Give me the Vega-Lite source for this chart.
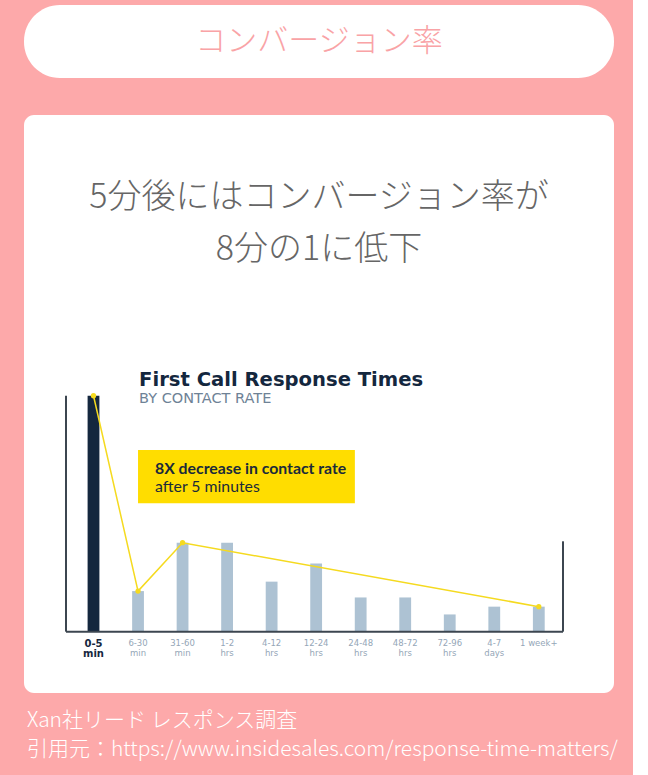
{
  "$schema": "https://vega.github.io/schema/vega-lite/v6.json",
  "background": "#fda9aa",
  "padding": {"left": 24, "top": 5, "right": 15, "bottom": 20},
  "config": {"font": "Noto Sans CJK JP"},
  "datasets": {
    "contact": [
      {"range": "0-5 min", "rate": 100},
      {"range": "6-30 min", "rate": 17.2},
      {"range": "31-60 min", "rate": 37.7},
      {"range": "1-2 hrs", "rate": 37.7},
      {"range": "4-12 hrs", "rate": 21.2},
      {"range": "12-24 hrs", "rate": 28.9},
      {"range": "24-48 hrs", "rate": 14.5},
      {"range": "48-72 hrs", "rate": 14.5},
      {"range": "72-96 hrs", "rate": 7.3},
      {"range": "4-7 days", "rate": 10.6},
      {"range": "1 week+", "rate": 10.6}
    ],
    "trend": [
      {"range": "0-5 min", "rate": 100},
      {"range": "6-30 min", "rate": 17.2},
      {"range": "31-60 min", "rate": 37.7},
      {"range": "1 week+", "rate": 10.6}
    ]
  },
  "spacing": 37,
  "vconcat": [
    {
      "width": 590,
      "height": 73,
      "view": {"fill": "white", "stroke": null, "cornerRadius": 36},
      "data": {"values": [{"heading": "コンバージョン率"}]},
      "mark": {"type": "text", "fontSize": 31, "fontWeight": 300, "color": "#f9a3a6"},
      "encoding": {"text": {"field": "heading"}}
    },
    {
      "width": 590,
      "height": 578,
      "view": {"fill": "white", "stroke": null, "cornerRadius": 10},
      "title": {
        "text": ["Xan社リード レスポンス調査", "引用元：https://www.insidesales.com/response-time-matters/"],
        "orient": "bottom",
        "anchor": "start",
        "frame": "group",
        "offset": 17,
        "dx": 3,
        "color": "white",
        "fontSize": 21,
        "fontWeight": 300,
        "lineHeight": 29
      },
      "layer": [
        {
          "data": {"name": "contact"},
          "mark": {"type": "bar"},
          "encoding": {
            "x": {
              "field": "range",
              "type": "nominal",
              "title": null,
              "sort": ["0-5 min", "6-30 min", "31-60 min", "1-2 hrs", "4-12 hrs", "12-24 hrs", "24-48 hrs", "48-72 hrs", "72-96 hrs", "4-7 days", "1 week+"],
              "scale": {"range": [63.6, 520.7], "paddingInner": 0.735, "paddingOuter": 0},
              "axis": {
                "orient": "bottom",
                "offset": -61.3,
                "domain": false,
                "ticks": false,
                "grid": false,
                "labelAngle": 0,
                "labelPadding": 7,
                "labelFont": "DejaVu Sans",
                "labelLineHeight": 9.5,
                "labelExpr": "datum.value === '1 week+' ? datum.label : split(datum.label, ' ')",
                "labelFontSize": {"condition": {"test": "datum.value === '0-5 min'", "value": 10}, "value": 8.5},
                "labelFontWeight": {"condition": {"test": "datum.value === '0-5 min'", "value": "bold"}, "value": "normal"},
                "labelColor": {"condition": {"test": "datum.value === '0-5 min'", "value": "#14273e"}, "value": "#94a6b7"}
              }
            },
            "y": {
              "field": "rate",
              "type": "quantitative",
              "scale": {"domain": [-26, 219], "nice": false, "zero": false},
              "axis": null
            },
            "color": {"condition": {"test": "datum.range === '0-5 min'", "value": "#14273e"}, "value": "#adc2d3"}
          }
        },
        {
          "data": {"values": [{}]},
          "mark": {"type": "rule", "color": "#3c4650", "strokeWidth": 2, "xOffset": -27.5, "x2Offset": 24.2},
          "encoding": {
            "x": {"datum": "0-5 min", "type": "nominal"},
            "x2": {"datum": "1 week+"},
            "y": {"datum": 0, "type": "quantitative"}
          }
        },
        {
          "data": {"values": [{}]},
          "mark": {"type": "rule", "color": "#3c4650", "strokeWidth": 2, "xOffset": -27.5},
          "encoding": {
            "x": {"datum": "0-5 min", "type": "nominal"},
            "y": {"datum": 0, "type": "quantitative"},
            "y2": {"datum": 100}
          }
        },
        {
          "data": {"values": [{}]},
          "mark": {"type": "rule", "color": "#3c4650", "strokeWidth": 2, "xOffset": 24.2},
          "encoding": {
            "x": {"datum": "1 week+", "type": "nominal"},
            "y": {"datum": 0, "type": "quantitative"},
            "y2": {"datum": 38.3}
          }
        },
        {
          "data": {"values": [{}]},
          "mark": {"type": "rect", "color": "#ffdd00", "x2Offset": -5.8},
          "encoding": {
            "x": {"datum": "6-30 min", "type": "nominal", "bandPosition": 0.5},
            "x2": {"datum": "24-48 hrs", "bandPosition": 0.5},
            "y": {"datum": 77, "type": "quantitative"},
            "y2": {"datum": 54.4}
          }
        },
        {
          "data": {"values": [{}]},
          "mark": {"type": "text", "text": "8X decrease in contact rate", "align": "left", "baseline": "alphabetic", "font": "Lato", "fontSize": 15.8, "fontWeight": "bold", "color": "#1a2a3a", "dx": 17},
          "encoding": {
            "x": {"datum": "6-30 min", "type": "nominal"},
            "y": {"datum": 67, "type": "quantitative"}
          }
        },
        {
          "data": {"values": [{}]},
          "mark": {"type": "text", "text": "after 5 minutes", "align": "left", "baseline": "alphabetic", "font": "Lato", "fontSize": 15.8, "color": "#1a2a3a", "dx": 17},
          "encoding": {
            "x": {"datum": "6-30 min", "type": "nominal"},
            "y": {"datum": 59.1, "type": "quantitative"}
          }
        },
        {
          "data": {"name": "trend"},
          "mark": {"type": "line", "color": "#f5da1f", "strokeWidth": 1.5, "point": {"filled": true, "size": 28, "color": "#f5da1f"}},
          "encoding": {
            "x": {"field": "range", "type": "nominal", "sort": ["0-5 min", "6-30 min", "31-60 min", "1-2 hrs", "4-12 hrs", "12-24 hrs", "24-48 hrs", "48-72 hrs", "72-96 hrs", "4-7 days", "1 week+"]},
            "y": {"field": "rate", "type": "quantitative"}
          }
        },
        {
          "data": {"values": [{}]},
          "mark": {"type": "text", "text": "First Call Response Times", "align": "left", "baseline": "alphabetic", "font": "DejaVu Sans", "fontSize": 19.6, "fontWeight": "bold", "color": "#14273e", "dx": 1},
          "encoding": {
            "x": {"datum": "6-30 min", "type": "nominal"},
            "y": {"datum": 104.1, "type": "quantitative"}
          }
        },
        {
          "data": {"values": [{}]},
          "mark": {"type": "text", "text": "BY CONTACT RATE", "align": "left", "baseline": "alphabetic", "font": "DejaVu Sans", "fontSize": 14.5, "color": "#6e8296", "dx": 1},
          "encoding": {
            "x": {"datum": "6-30 min", "type": "nominal"},
            "y": {"datum": 96.8, "type": "quantitative"}
          }
        },
        {
          "data": {"values": [{}]},
          "mark": {"type": "text", "text": ["5分後にはコンバージョン率が", "8分の1に低下"], "align": "center", "baseline": "middle", "fontSize": 34, "fontWeight": 300, "lineHeight": 52, "color": "#666666"},
          "encoding": {
            "y": {"datum": 184, "type": "quantitative"}
          }
        }
      ]
    }
  ]
}
